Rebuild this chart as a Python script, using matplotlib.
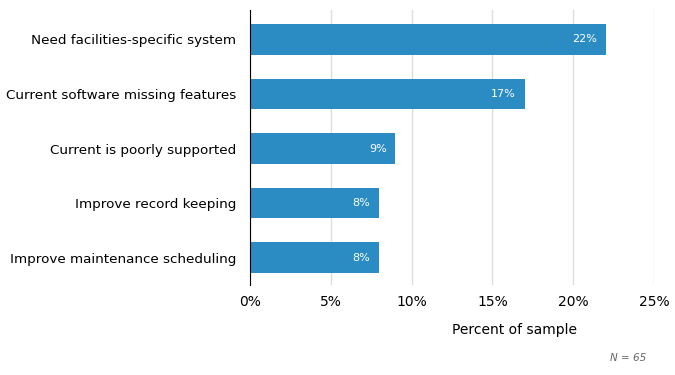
import matplotlib
matplotlib.use("Agg")
import matplotlib.pyplot as plt
import numpy as np

categories = [
    "Need facilities-specific system",
    "Current software missing features",
    "Current is poorly supported",
    "Improve record keeping",
    "Improve maintenance scheduling",
]
values = [22, 17, 9, 8, 8]
xticks = [0, 5, 10, 15, 20, 25]

plt.rcParams['font.family'] = ['DejaVu Sans']

fig = plt.figure(figsize=(6.75, 3.75), dpi=100)
ax = fig.add_axes([250 / 675, 1 - 285 / 375, 404 / 675, 275 / 375])

y = np.arange(len(categories))
ax.barh(y, values, height=0.56, color="#2b8cc4", zorder=2)
for yi, v in zip(y, values):
    ax.text(v - 0.55, yi, f"{v}%", color="white", ha="right", va="center", fontsize=8, zorder=3)

ax.set_xlim(0, 25)
ax.set_ylim(len(categories) - 0.5, -0.54)
ax.set_yticks(y)
ax.set_yticklabels(categories, fontsize=9.7)
ax.set_xticks(xticks)
ax.set_xticklabels([f"{t}%" for t in xticks], fontsize=10)
ax.tick_params(axis="y", length=0, pad=10)
ax.tick_params(axis="x", length=0, pad=7)

ax.grid(axis="x", color="#dddddd", linewidth=1, zorder=0)
for s in ["top", "right", "bottom"]:
    ax.spines[s].set_visible(False)
ax.spines["left"].set_color("black")
ax.spines["left"].set_zorder(4)

fig.text(515 / 675, 1 - 330 / 375, "Percent of sample", ha="center", va="center", fontsize=10)
fig.text(628 / 675, 1 - 358 / 375, "N = 65", ha="center", va="center", fontsize=7.5,
         style="italic", color="#666666")

fig.savefig("out.png", dpi=100)
